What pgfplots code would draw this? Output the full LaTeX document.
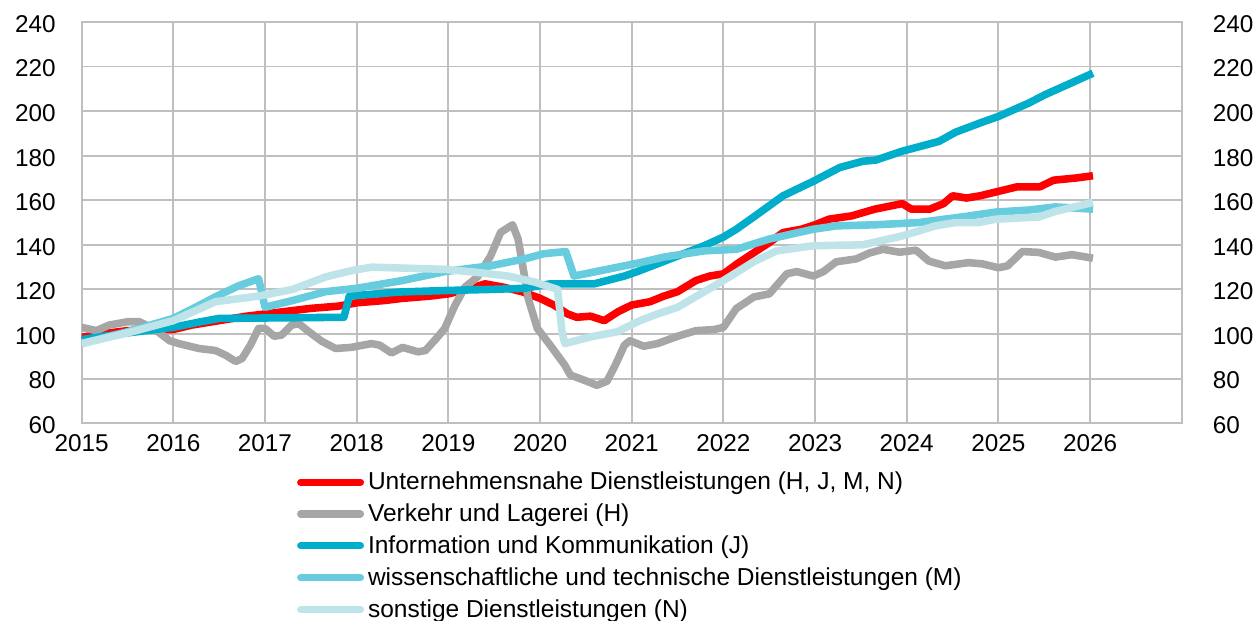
\documentclass[border=0pt]{standalone}
\usepackage{pgfplots}
\pgfplotsset{compat=1.18}
\usepackage{fontspec}
\setmainfont{Liberation Sans}
\definecolor{cRed}{HTML}{FF0000}
\definecolor{cGray}{HTML}{A6A6A6}
\definecolor{cInfo}{HTML}{00ADCA}
\definecolor{cWiss}{HTML}{66CCDE}
\definecolor{cSon}{HTML}{BEE4EA}
\definecolor{cGrid}{HTML}{BFBFBF}
\begin{document}
\begin{tikzpicture}
\begin{axis}[
  name=ax,
  scale only axis, width=552.5pt, height=201.5pt,
  xmin=2015, xmax=2027, ymin=60, ymax=240,
  xtick={2015,...,2027},
  xticklabels={2015,2016,2017,2018,2019,2020,2021,2022,2023,2024,2025,2026,},
  ytick={60,80,...,240},
  major tick length=0pt,
  grid=major,
  grid style={cGrid, line width=1pt},
  axis line style={cGrid, line width=1pt},
  tick label style={font=\fontsize{12.2}{14}\selectfont, /pgf/number format/assume math mode=true},
  /pgf/number format/1000 sep={},
  xticklabel style={yshift=-2pt},
  yticklabel style={xshift=-9.5pt, yshift=-1pt},
  legend cell align=left,
  legend style={at={(0.1955,-0.12)}, anchor=north west, draw=none, fill=none,
    font=\fontsize{12.3}{14}\selectfont, row sep=5.6pt, inner sep=0pt,
    nodes={inner xsep=2pt, inner ysep=0pt}},
  legend image code/.code={\draw[#1, line width=3.6pt, line cap=round] (0pt,0pt) -- (30pt,0pt);},
  every axis plot/.append style={line width=3.8pt, line join=round},
]
\addplot[cRed] coordinates {
(2015.0,98.5)(2015.2,100)(2015.5,101.5)(2015.8,102)(2016.0,102)(2016.2,104)(2016.5,106)(2016.8,108)
(2017.0,109)(2017.3,110.5)(2017.5,111.5)(2017.8,112.5)(2018.0,114)(2018.3,115)(2018.5,116)(2018.8,117)
(2019.0,118)(2019.2,120)(2019.4,122.5)(2019.6,121)(2019.8,119)(2020.0,116)(2020.15,113)(2020.3,109)
(2020.4,107.5)(2020.55,108)(2020.7,106)(2020.85,110)(2021.0,113)(2021.2,114.5)(2021.35,117)(2021.5,119)
(2021.7,124)(2021.85,126)(2022.0,127)(2022.15,131.5)(2022.35,137)(2022.5,141)(2022.65,145.5)(2022.85,147)
(2023.0,149)(2023.15,151.5)(2023.4,153)(2023.65,156)(2023.95,158.5)(2024.05,156)(2024.25,156)(2024.4,158.5)
(2024.5,162)(2024.65,161)(2024.8,162)(2025.0,164)(2025.2,166)(2025.45,166)(2025.6,169)(2025.85,170)(2026.03,171)
};
\addlegendentry{Unternehmensnahe Dienstleistungen (H, J, M, N)}
\addplot[cGray] coordinates {
(2015.0,103)(2015.16,101.5)(2015.3,104)(2015.5,105.5)(2015.63,105.5)(2015.8,102)(2015.96,97)(2016.06,95.7)
(2016.28,93.5)(2016.46,92.6)(2016.57,90.5)(2016.68,87.7)(2016.75,89)(2016.84,95)(2016.93,102.5)(2017.0,102.5)
(2017.1,99)(2017.18,99.5)(2017.29,104)(2017.37,104.6)(2017.48,101)(2017.62,96.7)(2017.77,93.5)(2017.94,94)
(2018.16,95.7)(2018.25,95)(2018.38,91.5)(2018.5,94)(2018.67,92)(2018.75,92.6)(2018.89,99)(2018.96,102.5)
(2019.07,112.7)(2019.18,121)(2019.32,125.7)(2019.46,135)(2019.57,145.6)(2019.7,149)(2019.76,142.6)(2019.83,126)
(2019.87,116)(2019.97,102.5)(2020.11,95)(2020.27,86)(2020.33,81.6)(2020.48,79.3)(2020.62,77)(2020.73,78.8)
(2020.82,86)(2020.92,95)(2020.98,97)(2021.13,94.5)(2021.28,95.7)(2021.5,99)(2021.7,101.5)(2021.9,102)
(2022.0,103)(2022.14,111.4)(2022.33,116.6)(2022.5,118)(2022.69,127)(2022.8,128)(2022.98,126)(2023.09,128)
(2023.23,132.4)(2023.45,133.7)(2023.59,136.3)(2023.74,138)(2023.92,136.7)(2024.1,137.6)(2024.24,132.7)(2024.42,130.6)
(2024.67,132)(2024.82,131.5)(2025.0,129.7)(2025.1,130.6)(2025.26,137)(2025.44,136.6)(2025.62,134.5)(2025.8,135.6)(2026.03,134)
};
\addlegendentry{Verkehr und Lagerei (H)}
\addplot[cInfo] coordinates {
(2015.0,97.5)(2015.5,100.5)(2016.0,103)(2016.3,105.5)(2016.5,107)(2017.86,107.5)(2017.92,117)(2018.45,118.8)
(2018.96,119.5)(2019.46,120)(2019.83,120.5)(2020.11,122.5)(2020.59,122.5)(2020.92,126)(2021.06,128)(2021.42,133.7)
(2021.79,139.6)(2022.0,143.5)(2022.14,147)(2022.33,152.5)(2022.65,162)(2022.98,168.5)(2023.27,174.7)(2023.52,177.5)
(2023.66,178)(2023.95,182)(2024.35,186.4)(2024.53,190.5)(2024.82,195)(2025.0,197.6)(2025.33,203.6)(2025.51,207.4)
(2025.76,212)(2026.03,217)
};
\addlegendentry{Information und Kommunikation (J)}
\addplot[cWiss] coordinates {
(2015.0,95.7)(2015.5,101)(2016.0,107)(2016.28,112.8)(2016.46,116.7)(2016.71,121.6)(2016.93,124.8)(2017.0,112)
(2017.3,115)(2017.66,119)(2018.0,120.5)(2018.5,124)(2018.96,128)(2019.46,130.6)(2019.83,133.7)(2020.04,136)
(2020.28,137)(2020.37,126)(2020.73,129)(2021.09,132)(2021.35,134.5)(2021.79,137.3)(2022.14,138)(2022.5,142.6)
(2022.98,147)(2023.23,148.5)(2023.66,149)(2024.13,150)(2024.6,152.5)(2024.97,154.7)(2025.33,155.6)(2025.62,157)(2026.03,156)
};
\addlegendentry{wissenschaftliche und technische Dienstleistungen (M)}
\addplot[cSon] coordinates {
(2015.0,95.7)(2015.5,100.5)(2016.0,106)(2016.46,114.5)(2016.93,117)(2017.3,120)(2017.66,125.6)(2017.94,128.4)
(2018.16,130)(2018.96,129)(2019.3,127.7)(2019.65,126)(2019.94,123.3)(2020.19,120)(2020.24,100.8)(2020.27,95.7)
(2020.56,98.8)(2020.84,101)(2021.09,106)(2021.28,109)(2021.5,112)(2021.75,118)(2022.0,124)(2022.33,132.4)
(2022.58,137.3)(2022.98,139.6)(2023.52,140)(2023.95,144)(2024.31,148.5)(2024.53,150)(2024.78,150)(2024.97,151.5)
(2025.44,152.5)(2025.62,155)(2026.03,159)
};
\addlegendentry{sonstige Dienstleistungen (N)}
\end{axis}
\begin{axis}[
  scale only axis, width=552.5pt, height=201.5pt,
  xmin=2015, xmax=2027, ymin=60, ymax=240,
  hide x axis, axis y line*=right, axis line style={draw=none},
  ytick={60,80,...,240}, major tick length=0pt,
  tick label style={font=\fontsize{12.2}{14}\selectfont, /pgf/number format/assume math mode=true},
  yticklabel style={xshift=12pt, yshift=-1pt, anchor=west},
]
\end{axis}
\path (ax.south west) ++(-41pt,-97.5pt) rectangle ([xshift=36.5pt,yshift=11pt]ax.north east);
\end{tikzpicture}
\end{document}
